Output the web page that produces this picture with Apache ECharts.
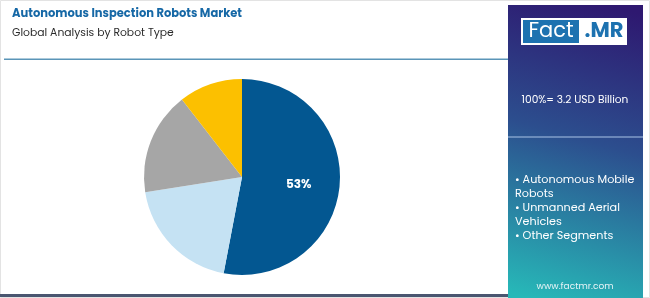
<!DOCTYPE html>
<html>
<head>
<meta charset="utf-8">
<script src="https://cdn.jsdelivr.net/npm/echarts@6/dist/echarts.min.js"></script>
<style>
html,body{margin:0;padding:0;background:#fff;}
#c{width:650px;height:298px;}
</style>
</head>
<body>
<div id="c"></div>
<script>
var categories = ['Autonomous Mobile Robots', 'Unmanned Aerial Vehicles', 'Other Segments', 'Others'];
var values = [53, 19.5, 17, 10.5];
var sliceColors = ['#035791', '#c5e2f3', '#a6a6a6', '#fcc000'];
var titleText = 'Autonomous Inspection Robots Market';
var subtitleText = 'Global Analysis by Robot Type';
var totalText = '100%= 3.2 USD Billion';
var legendLines = ['• Autonomous Mobile', 'Robots', '• Unmanned Aerial', 'Vehicles', '• Other Segments'];

var chart = echarts.init(document.getElementById('c'), null, {renderer: 'canvas'});
var font = 'Poppins, "Open Sans", Lato, sans-serif';

var graphics = [
  {type: 'rect', shape: {x: 0.5, y: 0.5, width: 649, height: 297}, style: {fill: 'none', stroke: '#e3e3e3', lineWidth: 1}, z: 0},
  {type: 'text', x: 12, y: 14, style: {text: titleText, font: 'bold 11.5px ' + font, fill: '#1668a6', verticalAlign: 'middle'}},
  {type: 'text', x: 12, y: 33, style: {text: subtitleText, font: '10.8px ' + font, fill: '#2a2a2a', verticalAlign: 'middle'}},
  {type: 'rect', shape: {x: 4, y: 58.5, width: 506, height: 1.5}, style: {fill: '#5a95b8'}},
  {type: 'rect', shape: {x: 0, y: 294, width: 510, height: 3}, style: {fill: '#4a5670'}},
  {type: 'rect', shape: {x: 508, y: 5, width: 135, height: 293}, style: {fill: new echarts.graphic.LinearGradient(0.75, 0, 0.15, 1, [
    {offset: 0, color: '#2e1870'},
    {offset: 0.45, color: '#2c4e8e'},
    {offset: 1, color: '#27b8b8'}
  ])}},
  {type: 'rect', shape: {x: 521, y: 18, width: 106, height: 27}, style: {fill: '#ffffff'}},
  {type: 'rect', shape: {x: 523, y: 20, width: 56, height: 23}, style: {fill: '#1d72b0'}},
  {type: 'text', x: 551, y: 31.5, style: {text: 'Fact', font: '21px ' + font, fill: '#ffffff', align: 'center', verticalAlign: 'middle'}},
  {type: 'text', x: 604, y: 31.5, style: {text: '.MR', font: 'bold 21px ' + font, fill: '#1d72b0', align: 'center', verticalAlign: 'middle'}},
  {type: 'text', x: 575, y: 100, style: {text: totalText, font: '10.6px ' + font, fill: '#ffffff', align: 'center', verticalAlign: 'middle'}},
  {type: 'rect', shape: {x: 508, y: 136.5, width: 135, height: 1}, style: {fill: '#a9c3e6'}},
  {type: 'text', x: 575, y: 287, style: {text: 'www.factmr.com', font: '9px ' + font, fill: '#e6f3f6', align: 'center', verticalAlign: 'middle'}}
];
legendLines.forEach(function (t, i) {
  graphics.push({type: 'text', x: 515, y: 180 + i * 14, style: {text: t, font: '11.2px ' + font, fill: '#ffffff', verticalAlign: 'middle'}});
});

chart.setOption({
  animation: false,
  graphic: graphics,
  series: [{
    type: 'pie',
    center: [242, 177],
    radius: [0, 98],
    startAngle: 90,
    clockwise: true,
    data: categories.map(function (c, i) {
      return {
        name: c,
        value: values[i],
        itemStyle: {color: sliceColors[i]},
        label: i === 0 ? {show: true, position: 'inside', formatter: Math.round(values[i]) + '%', color: '#fff', fontWeight: 'bold', fontSize: 12, fontFamily: font, offset: [5, 3]} : {show: false}
      };
    }),
    labelLine: {show: false},
    itemStyle: {borderWidth: 0},
    emphasis: {disabled: true}
  }]
});
</script>
</body>
</html>
